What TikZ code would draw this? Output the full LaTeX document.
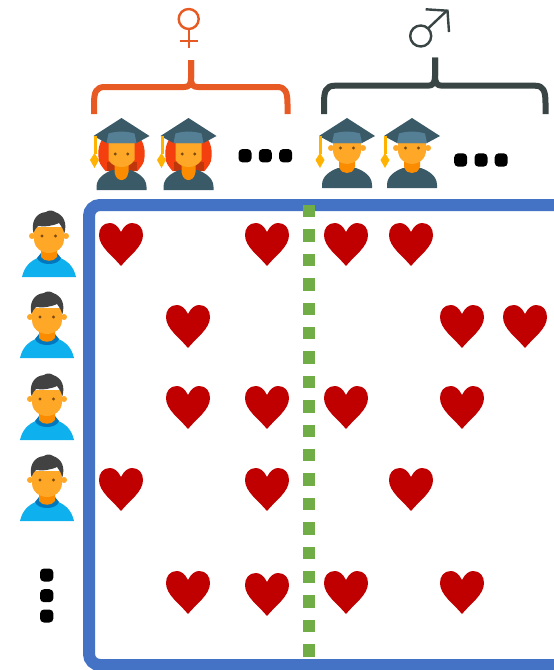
\documentclass[tikz,border=0pt]{standalone}
\definecolor{frameblue}{HTML}{4472C4}
\definecolor{divgreen}{HTML}{70AD47}
\definecolor{heartred}{HTML}{C00000}
\definecolor{femorange}{HTML}{E85A24}
\definecolor{maledark}{HTML}{394445}
\definecolor{skin}{HTML}{FFA726}
\definecolor{neckc}{HTML}{FB8C00}
\definecolor{hairdark}{HTML}{424242}
\definecolor{shirt}{HTML}{0FB0EE}
\definecolor{collar}{HTML}{0277BD}
\definecolor{gown}{HTML}{3B5A68}
\definecolor{capband}{HTML}{547F94}
\definecolor{tassel}{HTML}{FFB300}
\definecolor{redhair}{HTML}{F4400E}
\definecolor{redhairdk}{HTML}{BF360C}
\definecolor{eyec}{HTML}{7A4A10}
\tikzset{
  x=1pt,y=-1pt,
  brace line/.style={line width=6pt,line cap=butt,line join=round},
  symbol line/.style={line width=2.4pt},
  dotmark/.style={fill=black,rounded corners=4pt},
  heartpic/.pic={
    \fill[heartred] (0,9) .. controls (-3,3) and (-7,0) .. (-11,0)
      .. controls (-18,0) and (-22,5) .. (-22,12)
      .. controls (-22,24) and (-8,33) .. (0,43)
      .. controls (8,33) and (22,24) .. (22,12)
      .. controls (22,5) and (18,0) .. (11,0)
      .. controls (7,0) and (3,3) .. (0,9) -- cycle;
  },
  personpic/.pic={
    \fill[shirt] (-27,0) .. controls (-25,-9) and (-20,-16) .. (-9,-20)
      -- (9,-20) .. controls (20,-16) and (25,-9) .. (27,0) -- cycle;
    \fill[collar] (-12,-19) .. controls (-9,-11) and (9,-11) .. (12,-19) -- (8,-24) -- (-8,-24) -- cycle;
    \fill[neckc] (-8,-28) -- (8,-28) -- (8,-20) .. controls (5,-15) and (-5,-15) .. (-8,-20) -- cycle;
    \fill[skin] (-17,-41) circle[radius=3];
    \fill[skin] (17,-41) circle[radius=3];
    \fill[skin] (-15,-50) -- (15,-50) -- (15,-38) .. controls (15,-29) and (7,-24) .. (0,-24)
      .. controls (-7,-24) and (-15,-29) .. (-15,-38) -- cycle;
    \fill[hairdark] (-15.5,-44) .. controls (-18,-54) and (-14,-64) .. (-3,-65)
      .. controls (-1,-67) and (4,-67) .. (6,-65)
      .. controls (15,-62) and (18,-54) .. (15.5,-44)
      .. controls (14.5,-47) and (13,-50) .. (10,-54)
      .. controls (4,-51) and (-5,-50) .. (-11,-51)
      .. controls (-13,-49) and (-14.5,-47) .. (-15.5,-44) -- cycle;
    \fill[eyec] (-7,-41) circle[radius=1.6];
    \fill[eyec] (6.5,-41) circle[radius=1.6];
  },
  gradbase/.pic={
    \fill[gown] (-25,0) -- (-25,-3) .. controls (-25,-12) and (-17,-17) .. (-9,-20)
      -- (9,-20) .. controls (17,-17) and (25,-12) .. (25,-3) -- (25,0) -- cycle;
  },
  gradcap/.pic={
    \fill[capband] (-14,-58) -- (14,-58) -- (15,-47) -- (-15,-47) -- cycle;
    \fill[gown] (0,-72) -- (28,-54) -- (15,-47) .. controls (14,-54) and (-14,-54) .. (-15,-47) -- (-28,-54) -- cycle;
    \fill[capband] (-13,-56.5) .. controls (-5,-59) and (5,-59) .. (13,-56.5) -- (15,-47) -- (-15,-47) -- cycle;
    \fill[tassel] (-28,-54) rectangle (-25,-36);
    \fill[tassel] (-27,-22) -- (-31.5,-30) -- (-27,-37) -- (-22.5,-30) -- cycle;
  },
  femalepic/.pic={
    \fill[redhair] (-16,-19) .. controls (-20,-24) and (-23,-27) .. (-23,-33)
      .. controls (-24,-42) and (-21,-52) .. (-14,-56)
      -- (14,-56) .. controls (21,-52) and (24,-42) .. (23,-33)
      .. controls (23,-27) and (20,-24) .. (16,-19) -- cycle;
    \fill[redhairdk] (-15,-28) rectangle (15,-19);
    \pic {gradbase};
    \fill[neckc] (-7,-30) -- (7,-30) -- (7,-18) .. controls (6,-12) and (3,-10) .. (0,-10)
      .. controls (-3,-10) and (-6,-12) .. (-7,-18) -- cycle;
    \fill[skin] (-13,-48) -- (13,-48) -- (13,-30) .. controls (10,-25) and (5,-23) .. (0,-23)
      .. controls (-5,-23) and (-10,-25) .. (-13,-30) -- cycle;
    \pic {gradcap};
    \fill[eyec] (-6.3,-36) circle[radius=1.6];
    \fill[eyec] (6.3,-36) circle[radius=1.6];
  },
  malepic/.pic={
    \pic {gradbase};
    \fill[neckc] (-8,-30) -- (8,-30) -- (8,-21) .. controls (6,-16) and (3,-15) .. (0,-15)
      .. controls (-3,-15) and (-6,-16) .. (-8,-21) -- cycle;
    \fill[skin] (-16,-40) circle[radius=3];
    \fill[skin] (16,-40) circle[radius=3];
    \fill[skin] (-14,-49) -- (14,-49) -- (14,-38) .. controls (14,-29) and (7,-24) .. (0,-24)
      .. controls (-7,-24) and (-14,-29) .. (-14,-38) -- cycle;
    \begin{scope}[yshift=-2pt]
      \pic {gradcap};
    \end{scope}
    \fill[eyec] (-6.5,-40) circle[radius=1.6];
    \fill[eyec] (6.5,-40) circle[radius=1.6];
  },
}
\begin{document}
\begin{tikzpicture}
\clip (0,0) rectangle (554,670);
\fill[white] (0,0) rectangle (554,670);

% frame
\draw[frameblue,line width=12pt,rounded corners=11pt] (570,205) -- (89,205) -- (89,665) -- (570,665);

% divider
\foreach \k in {0,...,18}
  \fill[divgreen] (303,{205+24.4*\k}) rectangle (315,{217.4+24.4*\k});

% hearts: top-centre anchored
\foreach \hx/\hy in {121/223,267/223,346/223,411/223,
                     188/305,462/305,525/305,
                     188/386,267/386,346/386,462/386,
                     121/468,267/468,411/468,
                     188/571,267/573,346/571,462/571}
  \pic at (\hx,\hy) {heartpic};

% people
\pic (pa) at (49,277) {personpic};
\pic (pb) at (47,358) {personpic};
\pic (pc) at (47,440) {personpic};
\pic (pd) at (47,521) {personpic};

% vertical dots
\foreach \dy in {575,595.7,616}
  \fill[dotmark] (40,\dy-6.5) rectangle (53.4,\dy+6.5);

% graduates
\pic (fa) at (121.5,190) {femalepic};
\pic (fb) at (188.5,190) {femalepic};
\pic (ma) at (347,188) {malepic};
\pic (mb) at (412,188) {malepic};

% horizontal dots
\foreach \dx in {245,265.3,285.7}
  \fill[dotmark] (\dx-6.5,149) rectangle (\dx+6.5,162.4);
\foreach \dx in {460.7,481,501.2}
  \fill[dotmark] (\dx-6.5,153.3) rectangle (\dx+6.5,166.7);

% braces
\draw[femorange,brace line] (94,114) -- (94,104) .. controls (94,92) and (96,87) .. (105,87) -- (184,87)
   .. controls (189,87) and (191,85) .. (191,78) -- (191,60);
\draw[femorange,brace line] (287.5,114) -- (287.5,104) .. controls (287.5,92) and (285.5,87) .. (277,87) -- (198,87)
   .. controls (193,87) and (191,85) .. (191,78) -- (191,60);
\draw[maledark,brace line] (324,114) -- (324,103) .. controls (324,91) and (326,85.7) .. (335,85.7) -- (428,85.7)
   .. controls (433,85.7) and (435,83) .. (435,76) -- (435,57.7);
\draw[maledark,brace line] (545.5,114) -- (545.5,103) .. controls (545.5,91) and (543.5,85.7) .. (535,85.7) -- (442,85.7)
   .. controls (437,85.7) and (435,83) .. (435,76) -- (435,57.7);

% gender symbols
\draw[femorange,symbol line] (188.7,19) circle[radius=10];
\draw[femorange,symbol line] (188.7,30) -- (188.7,47.7) (180,40.7) -- (198,40.7);
\draw[maledark,symbol line] (420.7,36) circle[radius=10.5];
\draw[maledark,symbol line,line join=miter] (428,28.5) -- (446.5,11);
\draw[maledark,symbol line,line join=miter] (425.7,9.3) -- (447.5,10.7) -- (449,32);
\end{tikzpicture}
\end{document}
